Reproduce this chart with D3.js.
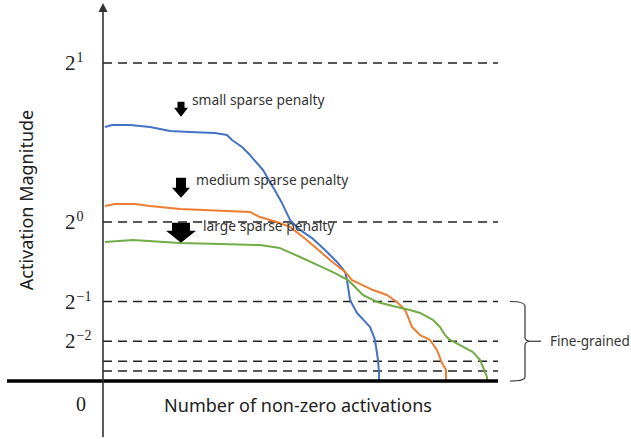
<!DOCTYPE html>
<html>
<head>
<meta charset="utf-8">
<script src="https://cdn.jsdelivr.net/npm/d3@7"></script>
<style>
  body { margin: 0; background: #fff; }
  text { font-family: "Noto Sans", "Noto Sans CJK SC", sans-serif; fill: #222; }
  .tick-label { font-family: "Liberation Serif", serif; }
</style>
</head>
<body>
<div id="chart"></div>
<script>
// x: number of non-zero activations (arbitrary units), y: activation magnitude
const blueX  = [2, 9, 27, 47, 67, 87, 112, 124, 129, 139, 147, 160, 170, 179, 187, 197, 209, 222, 235, 242, 244, 247, 254, 267, 272, 275, 276, 276];
const blueY  = [1.597, 1.610, 1.610, 1.597, 1.572, 1.566, 1.560, 1.547, 1.516, 1.472, 1.421, 1.327, 1.220, 1.119, 1.013, 0.950, 0.899, 0.824, 0.742, 0.686, 0.635, 0.509, 0.428, 0.340, 0.258, 0.132, 0.05, 0];

const orangeX = [2, 12, 32, 47, 77, 147, 157, 174, 187, 200, 212, 227, 242, 249, 270, 284, 295, 302, 305, 309, 317, 327, 334, 339, 343, 343];
const orangeY = [1.101, 1.113, 1.113, 1.101, 1.082, 1.063, 1.031, 1.000, 0.969, 0.906, 0.843, 0.761, 0.686, 0.635, 0.572, 0.541, 0.491, 0.447, 0.403, 0.340, 0.289, 0.258, 0.195, 0.113, 0.069, 0];

const greenX = [2, 30, 77, 117, 157, 177, 197, 217, 232, 245, 260, 274, 294, 307, 317, 330, 337, 342, 347, 357, 370, 377, 380, 384, 384];
const greenY = [0.874, 0.887, 0.868, 0.862, 0.855, 0.836, 0.780, 0.723, 0.679, 0.635, 0.541, 0.497, 0.465, 0.447, 0.428, 0.384, 0.340, 0.289, 0.258, 0.226, 0.182, 0.132, 0.088, 0.025, 0];

const seriesColors = ["#4472C4", "#ED7D31", "#70AD47"];

// reference levels (powers of two), labelled ones get a tick label
const levelExps = [1, 0, -1, -2, -3, -4];
const labelledExps = [1, 0, -1, -2];
const expLabels = ["1", "0", "\u22121", "\u22122"];

const penaltyLabels = ["small sparse penalty", "medium sparse penalty", "large sparse penalty"];
const arrowX = [78, 78, 78];
const arrowTopY = [1.756, 1.279, 0.996];
// arrow shape: [half body width, body height, half head width, head height]
const arrowShape = [[3.5, 6, 7, 9], [5, 10, 9, 10], [9, 8, 15, 12]];

const xTitle = "Number of non-zero activations";
const yTitle = "Activation Magnitude";
const braceLabel = "Fine-grained";

const W = 631, H = 439;
const svg = d3.select("#chart").append("svg").attr("width", W).attr("height", H);

const x = d3.scaleLinear().domain([0, 395]).range([103, 498]);
const y = d3.scaleLinear().domain([0, 2]).range([381, 63]);

// dashed reference lines
svg.append("g").selectAll("line")
    .data(levelExps)
    .join("line")
    .attr("x1", x(0)).attr("x2", x(395))
    .attr("y1", d => y(Math.pow(2, d))).attr("y2", d => y(Math.pow(2, d)))
    .attr("stroke", "#222")
    .attr("stroke-width", 1.5)
    .attr("stroke-dasharray", "9,6");

// tick labels 2^n
const tl = svg.append("g").selectAll("text")
    .data(labelledExps)
    .join("text")
    .attr("class", "tick-label")
    .attr("x", 65)
    .attr("y", d => y(Math.pow(2, d)) + 7)
    .style("font-size", "21px");
tl.append("tspan").text("2");
tl.append("tspan")
    .attr("dx", 1)
    .attr("dy", -8)
    .style("font-size", "14px")
    .text((d, i) => expLabels[i]);

svg.append("text")
    .attr("class", "tick-label")
    .attr("x", 76).attr("y", y(0) + 30)
    .style("font-size", "20px")
    .text("0");

// curves
const line = d3.line().x(d => x(d[0])).y(d => y(d[1]));
[[blueX, blueY], [orangeX, orangeY], [greenX, greenY]].forEach((s, i) => {
    svg.append("path")
        .datum(s[0].map((v, j) => [v, s[1][j]]))
        .attr("fill", "none")
        .attr("stroke", seriesColors[i])
        .attr("stroke-width", 2)
        .attr("stroke-linejoin", "round")
        .attr("d", line);
});

// axes
svg.append("line")
    .attr("x1", 7).attr("x2", x(395))
    .attr("y1", y(0)).attr("y2", y(0))
    .attr("stroke", "#000").attr("stroke-width", 3.3);
svg.append("line")
    .attr("x1", x(0)).attr("x2", x(0))
    .attr("y1", 437).attr("y2", 9)
    .attr("stroke", "#333").attr("stroke-width", 1.6);
svg.append("path")
    .attr("d", `M${x(0)},3 L${x(0) - 4.5},12 L${x(0) + 4.5},12 Z`)
    .attr("fill", "#333");

// penalty arrows + labels
penaltyLabels.forEach((lab, i) => {
    const cx = x(arrowX[i]), top = y(arrowTopY[i]);
    const [bw, bh, hw, hh] = arrowShape[i];
    svg.append("path")
        .attr("d", `M${cx - bw},${top} L${cx + bw},${top} L${cx + bw},${top + bh} L${cx + hw},${top + bh} L${cx},${top + bh + hh} L${cx - hw},${top + bh} L${cx - bw},${top + bh} Z`)
        .attr("fill", "#000");
});
const labelPos = [[192, 105], [196, 185], [203, 231]];
svg.append("g").selectAll("text")
    .data(penaltyLabels)
    .join("text")
    .attr("x", (d, i) => labelPos[i][0])
    .attr("y", (d, i) => labelPos[i][1])
    .style("font-size", "13.8px")
    .style("fill", "#333")
    .text(d => d);

// brace
const bTop = y(0.5), bBot = y(0), bMid = y(0.25);
svg.append("path")
    .attr("d", `M510,${bTop} Q525,${bTop} 525,${bTop + 5} L525,${bMid - 4} Q525,${bMid} 531,${bMid} Q525,${bMid} 525,${bMid + 4} L525,${bBot - 4} Q525,${bBot} 510,${bBot}`)
    .attr("fill", "none").attr("stroke", "#333").attr("stroke-width", 1.2);
svg.append("line")
    .attr("x1", 531).attr("x2", 541)
    .attr("y1", bMid).attr("y2", bMid)
    .attr("stroke", "#333").attr("stroke-width", 1.2);
svg.append("text")
    .attr("x", 550).attr("y", bMid + 5)
    .style("font-size", "13.5px")
    .style("fill", "#333")
    .text(braceLabel);

// titles
svg.append("text")
    .attr("x", 298).attr("y", 412)
    .attr("text-anchor", "middle")
    .style("font-size", "18px")
    .text(xTitle);
svg.append("text")
    .attr("transform", "translate(33,200) rotate(-90)")
    .attr("text-anchor", "middle")
    .style("font-size", "18px")
    .text(yTitle);
</script>
</body>
</html>
